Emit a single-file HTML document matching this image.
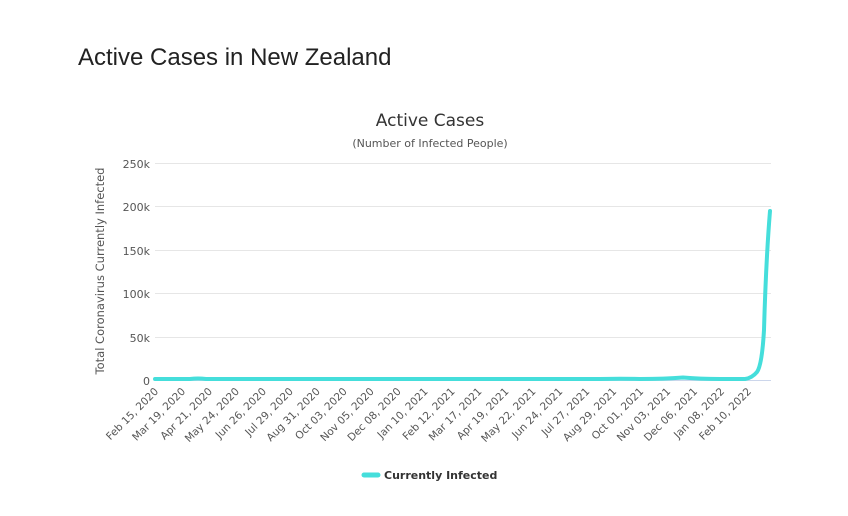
<!DOCTYPE html>
<html><head><style>
body{margin:0;background:#fff;width:848px;height:516px;overflow:hidden;font-family:"Liberation Sans",sans-serif}
h1{position:absolute;left:78px;top:44px;margin:0;font-size:24px;font-weight:normal;color:#222}
</style></head><body>
<h1>Active Cases in New Zealand</h1>
<svg width="848" height="516" style="position:absolute;left:0;top:0" font-family="DejaVu Sans, sans-serif">
<text x="430" y="126" text-anchor="middle" font-size="17" fill="#333">Active Cases</text>
<text x="430" y="147" text-anchor="middle" font-size="11" fill="#555">(Number of Infected People)</text>
<g stroke="#e6e6e6" stroke-width="1">
<line x1="155" x2="771" y1="163.5" y2="163.5"/><line x1="155" x2="771" y1="206.5" y2="206.5"/>
<line x1="155" x2="771" y1="250.5" y2="250.5"/><line x1="155" x2="771" y1="293.5" y2="293.5"/>
<line x1="155" x2="771" y1="337.5" y2="337.5"/>
</g>
<line x1="155" x2="771" y1="380.5" y2="380.5" stroke="#ccd6eb"/>
<g font-size="11" fill="#555" text-anchor="end">
<text x="150" y="168">250k</text><text x="150" y="211">200k</text><text x="150" y="255">150k</text>
<text x="150" y="298">100k</text><text x="150" y="342">50k</text><text x="150" y="385">0</text>
</g>
<text transform="translate(104,271) rotate(-90)" text-anchor="middle" font-size="11.5" fill="#555">Total Coronavirus Currently Infected</text>
<g font-size="10.5" fill="#555" text-anchor="end" id="xl"></g>
<path d="M155,379 L190,379 Q198,378 206,379 L600,379 Q620,378.5 640,379 Q665,379 683,377.5 Q700,379 720,379 L745,379 Q752,378 757,372 Q762,365 764,330 Q766,260 770,211" fill="none" stroke="#45dedb" stroke-width="4" stroke-linejoin="round" stroke-linecap="round"/>
<line x1="364" x2="378" y1="475" y2="475" stroke="#45dedb" stroke-width="5" stroke-linecap="round"/>
<text x="384" y="479" font-size="11" font-weight="bold" fill="#333">Currently Infected</text>
</svg>
<script>
var L=["Feb 15, 2020","Mar 19, 2020","Apr 21, 2020","May 24, 2020","Jun 26, 2020","Jul 29, 2020","Aug 31, 2020","Oct 03, 2020","Nov 05, 2020","Dec 08, 2020","Jan 10, 2021","Feb 12, 2021","Mar 17, 2021","Apr 19, 2021","May 22, 2021","Jun 24, 2021","Jul 27, 2021","Aug 29, 2021","Oct 01, 2021","Nov 03, 2021","Dec 06, 2021","Jan 08, 2022","Feb 10, 2022"];
var g=document.getElementById('xl'),s='';
for(var i=0;i<L.length;i++){var x=159+i*26.95,y=392;s+='<text transform="translate('+x+','+y+') rotate(-45)">'+L[i]+'</text>';}
g.innerHTML=s;
</script>
</body></html>
